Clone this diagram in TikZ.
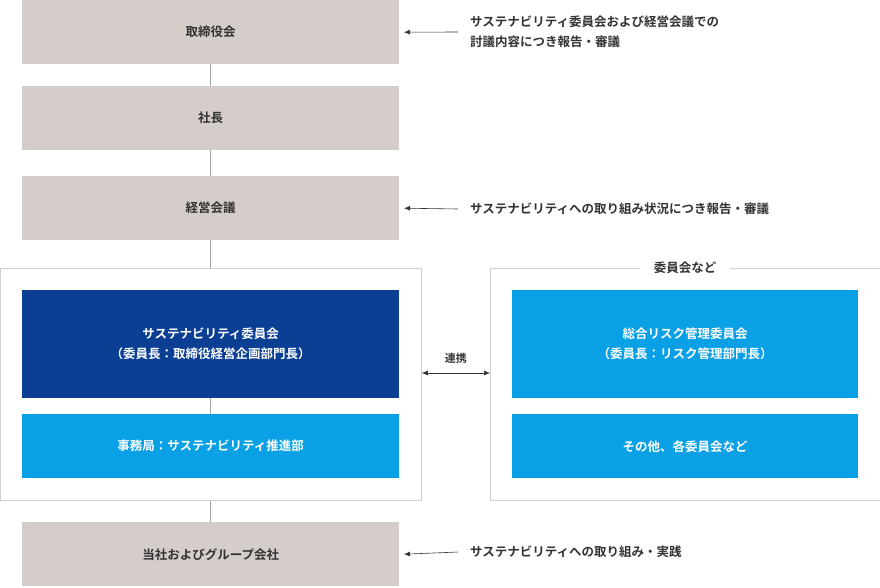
\documentclass[tikz,border=0pt]{standalone}
\usepackage{fontspec}
\setmainfont{Noto Sans CJK JP}[BoldFont={Noto Sans CJK JP Bold}]
\usetikzlibrary{arrows.meta}
\definecolor{gbox}{HTML}{D5CDC9}
\definecolor{dblue}{HTML}{0B3F93}
\definecolor{lblue}{HTML}{0AA0E6}
\definecolor{frame}{HTML}{CFCFCF}
\definecolor{txt}{HTML}{333333}
\begin{document}
\begin{tikzpicture}[x=1pt,y=-1pt,
 gray/.style={fill=gbox,draw=none,minimum width=377pt,minimum height=64pt,inner sep=0,font=\bfseries\fontsize{12.5}{16}\selectfont,text=txt,anchor=north west},
 dk/.style={fill=dblue,text=white,minimum height=108pt,align=center,inner sep=0,font=\bfseries\fontsize{12.5}{20}\selectfont,anchor=north west},
 lb/.style={fill=lblue,text=white,minimum height=64pt,inner sep=0,font=\bfseries\fontsize{12.5}{16}\selectfont,anchor=north west},
 note/.style={anchor=west,align=left,text=txt,font=\bfseries\fontsize{12.5}{20}\selectfont,inner sep=0},
 con/.style={draw=gray!70,line width=0.8pt},
 arr/.style={draw=txt,line width=0.6pt,-{Latex[length=6pt,width=5pt]}}]
\useasboundingbox[fill=white] (0,0) rectangle (880,587);
\node[gray] (a) at (22,0) {取締役会};
\node[gray] (b) at (22,86) {社長};
\node[gray] (c) at (22,176) {経営会議};
\node[draw=frame,line width=0.8pt,minimum width=421pt,minimum height=232pt,inner sep=0,anchor=north west] (lf) at (0,268) {};
\node[dk,minimum width=377pt] (d) at (22,290) {サステナビリティ委員会\\（委員長：取締役経営企画部門長）};
\node[lb,minimum width=377pt] (e) at (22,414) {事務局：サステナビリティ推進部};
\node[draw=frame,line width=0.8pt,minimum width=390pt,minimum height=232pt,inner sep=0,anchor=north west] (rf) at (490,268) {};
\node[fill=white,inner xsep=14pt,inner ysep=2pt,text=txt,font=\bfseries\fontsize{12.5}{16}\selectfont] (rl) at (685,268) {委員会など};
\node[dk,fill=lblue,minimum width=346pt] (f) at (512,290) {総合リスク管理委員会\\（委員長：リスク管理部門長）};
\node[lb,minimum width=346pt] (g) at (512,414) {その他、各委員会など};
\node[gray] (h) at (22,522) {当社およびグループ会社};
\draw[con] (a.south) -- (b.north);
\draw[con] (b.south) -- (c.north);
\draw[con] (c.south) -- (lf.north -| c.south);
\draw[con] (d.south) -- (e.north);
\draw[con] (lf.south -| h.north) -- (h.north);
\node[note] (n1) at (470,32) {サステナビリティ委員会および経営会議での\\討議内容につき報告・審議};
\node[note] (n2) at (470,209) {サステナビリティへの取り組み状況につき報告・審議};
\node[note] (n3) at (470,552) {サステナビリティへの取り組み・実践};
\draw[arr] ([xshift=-12pt]n1.west) -- (a.east -| 404,0);
\draw[arr] ([xshift=-12pt]n2.west) -- (c.east -| 404,0);
\draw[arr] ([xshift=-12pt]n3.west) -- (h.east -| 404,0);
\coordinate (l1) at (lf.east |- 0,373);
\coordinate (r1) at (rf.west |- 0,373);
\draw[txt,line width=0.6pt,{Latex[length=6pt,width=5pt]}-{Latex[length=6pt,width=5pt]}] (l1) -- node[above=6pt,text=txt,font=\bfseries\fontsize{11}{14}\selectfont] (lk) {連携} (r1);
\end{tikzpicture}
\end{document}
